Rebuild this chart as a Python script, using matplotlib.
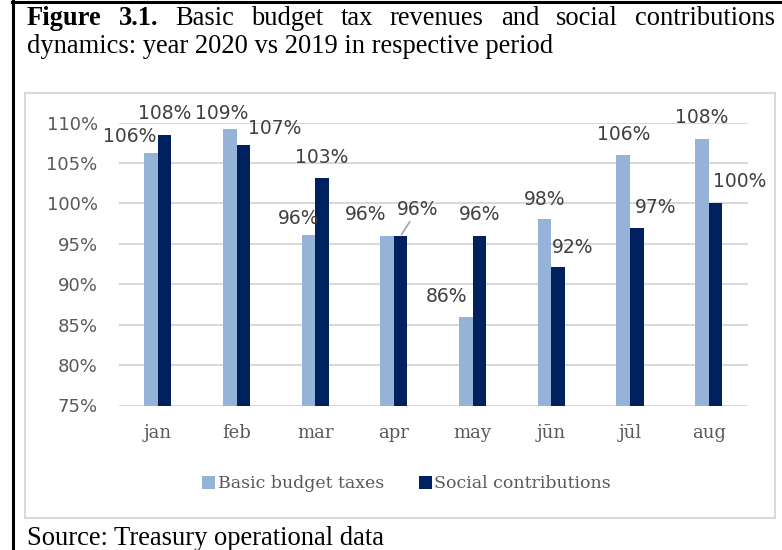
import numpy as np
import matplotlib.pyplot as plt
from matplotlib.patches import Rectangle
from matplotlib.lines import Line2D

# data
months = ['jan', 'feb', 'mar', 'apr', 'may', 'jūn', 'jūl', 'aug']
basic_taxes = [106.2, 109.2, 96.1, 96.0, 86.0, 98.1, 106.0, 108.0]
social_contrib = [108.5, 107.2, 103.1, 96.0, 96.0, 92.1, 97.0, 100.0]
basic_labels = ['106%', '109%', '96%', '96%', '86%', '98%', '106%', '108%']
social_labels = ['108%', '107%', '103%', '96%', '96%', '92%', '97%', '100%']
yticks = [75, 80, 85, 90, 95, 100, 105, 110]

# label nudges in pixels (dx, dy) relative to bar top centre
basic_nudge = [(-21, 18), (-8, 17), (-10, 18), (-22, 23), (-19, 22), (0, 21), (0, 22), (0, 23)]
social_nudge = [(0, 23), (31, 18), (0, 22), (17, 28), (0, 23), (15, 21), (19, 22), (24, 23)]

W, H = 782, 550
LIGHT = '#95b3d7'
DARK = '#002060'
GRID = '#d9d9d9'
TXT = '#595959'
LBL = '#404040'

fig = plt.figure(figsize=(W / 100, H / 100), dpi=100)

# outer black frame (left + top only visible)
fig.add_artist(Line2D([12.5 / W, 12.5 / W], [0, 1], color='black', lw=2.2, transform=fig.transFigure))
fig.add_artist(Line2D([12 / W, 1], [1 - 1.5 / H, 1 - 1.5 / H], color='black', lw=2.2, transform=fig.transFigure))

# chart box
box = Rectangle((25 / W, 1 - 518 / H), 750 / W, 425 / H, transform=fig.transFigure,
                facecolor='white', edgecolor=GRID, lw=1.5, zorder=-1)
fig.add_artist(box)

ax = fig.add_axes([118.5 / W, 1 - 405.5 / H, 629.5 / W, 282.8 / H])
ax.set_facecolor('none')
ax.set_zorder(2)

x = np.arange(len(months))
bw = 0.172
b1 = ax.bar(x - bw / 2, basic_taxes, bw, color=LIGHT, label='Basic budget taxes', zorder=3)
b2 = ax.bar(x + bw / 2, social_contrib, bw, color=DARK, label='Social contributions', zorder=3)

ax.set_ylim(75, 110)
ax.set_xlim(-0.5, len(months) - 0.5)
ax.set_yticks(yticks)
ax.set_yticklabels([f'{v}%' for v in yticks], fontsize=13, color=TXT, family='DejaVu Sans')
ax.set_xticks(x)
ax.set_xticklabels(months, fontsize=13, color=TXT, family='DejaVu Serif')
ax.tick_params(axis='y', length=0, pad=15)
ax.tick_params(axis='x', length=0, pad=13)
ax.grid(axis='y', color=GRID, lw=1.5, zorder=0)
ax.set_axisbelow(True)
for s in ax.spines.values():
    s.set_visible(False)

for i in range(len(months)):
    for bx, val, lab, (dx, dy) in [(x[i] - bw / 2, basic_taxes[i], basic_labels[i], basic_nudge[i]),
                                   (x[i] + bw / 2, social_contrib[i], social_labels[i], social_nudge[i])]:
        arrow = None
        if (dx, dy) == (17, 28):
            arrow = dict(arrowstyle='-', color='#a6a6a6', lw=1.2, shrinkA=0, shrinkB=1)
        ax.annotate(lab, xy=(bx, val), xytext=(dx, dy - 7), textcoords='offset pixels',
                    ha='center', va='baseline', fontsize=13.5, color=LBL,
                    family='DejaVu Sans', arrowprops=arrow, zorder=4, annotation_clip=False)

fig.legend(handles=[b1, b2], loc='center', bbox_to_anchor=(406.5 / W, 1 - 484 / H), ncol=2,
           frameon=False, handlelength=0.75, handleheight=0.75, handletextpad=0.15,
           columnspacing=2.0, prop={'family': 'DejaVu Serif', 'size': 12.5}, labelcolor=TXT)

# justified title line 1
fig.canvas.draw()
renderer = fig.canvas.get_renderer()
words = [('Figure', 'bold'), ('3.1.', 'bold'), ('Basic', 'normal'), ('budget', 'normal'),
         ('tax', 'normal'), ('revenues', 'normal'), ('and', 'normal'), ('social', 'normal'),
         ('contributions', 'normal')]
left, right = 27, 775
tsize = 19.1
arts = []
for w, wt in words:
    t = fig.text(0, 1 - 25 / H, w, fontsize=tsize, fontweight=wt, family='Liberation Serif',
                 va='baseline', ha='left')
    arts.append(t)
widths = [a.get_window_extent(renderer).width for a in arts]
gap = (right - left - sum(widths)) / (len(arts) - 1)
xpos = left
for a, wd in zip(arts, widths):
    a.set_x(xpos / W)
    xpos += wd + gap

fig.text(27 / W, 1 - 52.7 / H, 'dynamics: year 2020 vs 2019 in respective period', fontsize=tsize,
         family='Liberation Serif', va='baseline', ha='left')
fig.text(27 / W, 1 - 545 / H, 'Source: Treasury operational data', fontsize=tsize,
         family='Liberation Serif', va='baseline', ha='left')

fig.savefig('out.png', dpi=100)
